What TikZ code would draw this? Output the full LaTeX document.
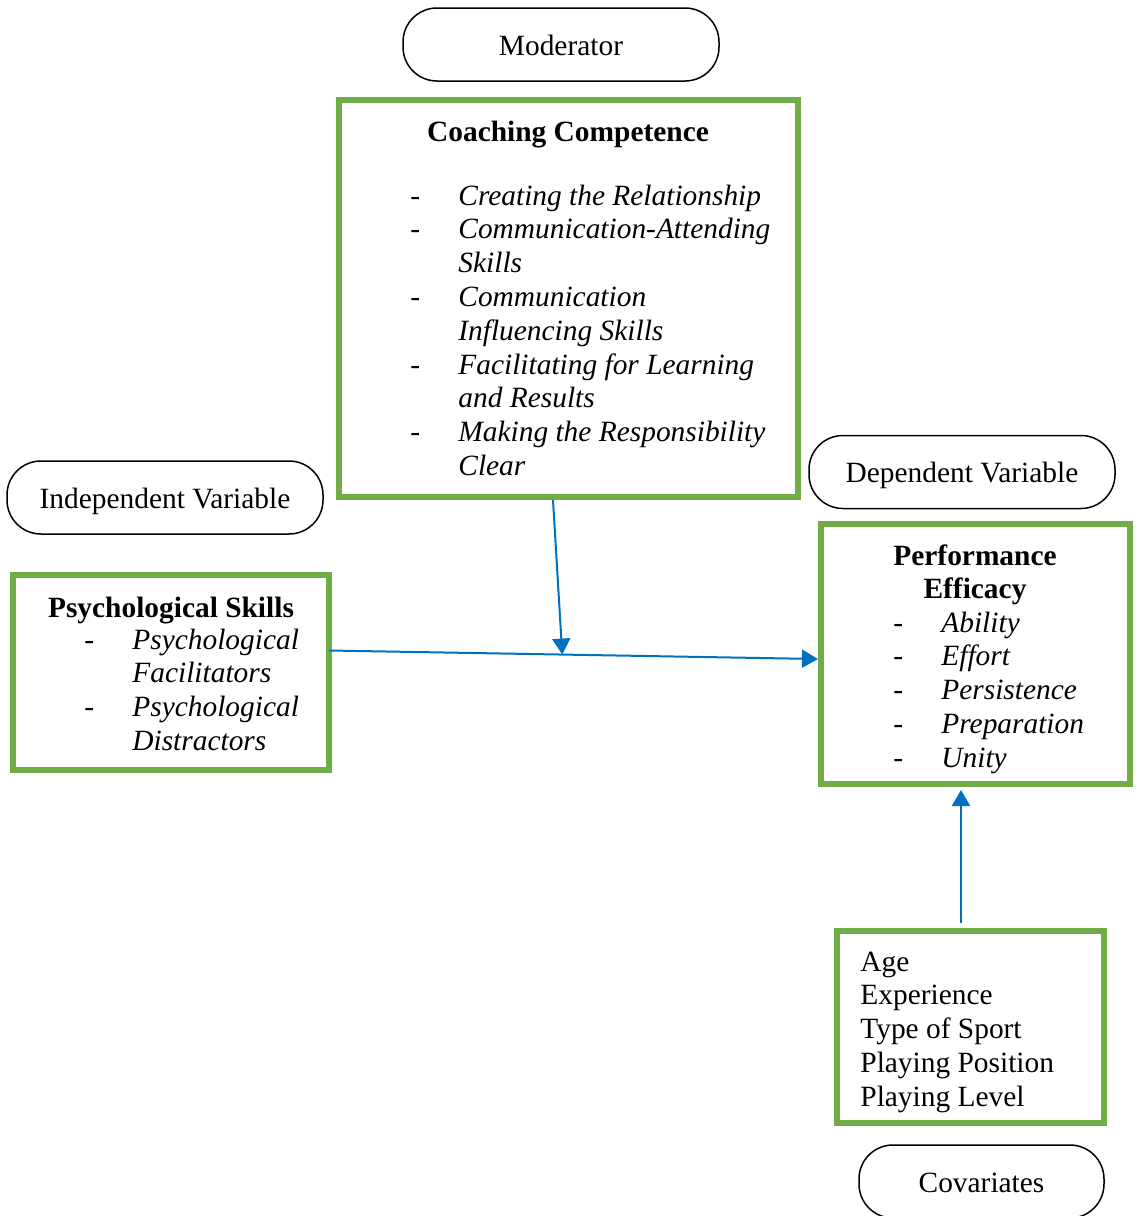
\documentclass[tikz,border=0pt]{standalone}
\usepackage{fontspec}
\usepackage{array}
\setmainfont{Liberation Serif}
\usetikzlibrary{arrows.meta,calc}

\definecolor{boxgreen}{HTML}{70AD47}
\definecolor{linkblue}{HTML}{0070C0}

% dash list: a dash, then the item in italics
\newcommand{\dashlist}[1]{\begin{tabular}{@{}p{24pt}@{}>{\itshape}l@{}}#1\end{tabular}}
\newcommand{\bodyfont}{\fontsize{14.7}{16.9}\selectfont}

\tikzset{
  varlabel/.style={draw, line width=0.75pt, rounded corners=17pt, minimum height=36.5pt,
    text height=12.5pt, text depth=2pt},
  greenbox/.style={draw=boxgreen, line width=3pt, inner sep=0pt},
  listtext/.style={anchor=north west, inner sep=0pt},
  headtext/.style={anchor=north, inner sep=0pt, font=\bodyfont\bfseries},
  link/.style={linkblue, line width=1pt, -{Triangle[length=8pt,width=9pt]}},
}

\begin{document}
\begin{tikzpicture}[x=0.5pt, y=-0.5pt, font=\bodyfont]
        \useasboundingbox (0,0) rectangle (1137,1216);
        % Labels of the variables
        \node[varlabel, minimum width=158pt] (moderator) at (561,44.5) {Moderator};
        \node[varlabel, minimum width=158pt] (indep) at (165,497.5) {Independent Variable};
        \node[varlabel, minimum width=153pt] (dep) at (962,472) {Dependent Variable};
        \node[varlabel, minimum width=122.5pt] (covlabel) at (981.5,1181.5) {Covariates};
        % Green boxes
        \node[greenbox, minimum width=229.5pt, minimum height=198.5pt] (coach) at (568.5,298.5) {};
        \node[greenbox, minimum width=158pt, minimum height=97.5pt] (psych) at (171,672.5) {};
        \node[greenbox, minimum width=154.5pt, minimum height=130pt] (perf) at (975.5,654) {};
        \node[greenbox, minimum width=133.5pt, minimum height=96pt] (cov) at (970.5,1027) {};
        % Coaching competence
        \node[headtext] (coachhead) at (568,121) {Coaching Competence};
        \node[listtext] (coachlist) at (410,181) {\dashlist{
          - & Creating the Relationship\\
          - & Communication-Attending\\
            & Skills\\
          - & Communication\\
            & Influencing Skills\\
          - & Facilitating for Learning\\
            & and Results\\
          - & Making the Responsibility\\
            & Clear}};
        % Psychological skills
        \node[headtext] (psychhead) at (171,597) {Psychological Skills};
        \node[listtext] (psychlist) at (84,625) {\dashlist{
          - & Psychological\\
            & Facilitators\\
          - & Psychological\\
            & Distractors}};
        % Performance efficacy
        \node[headtext] (perfhead) at (975,541) {\begin{tabular}{@{}c@{}}Performance\\Efficacy\end{tabular}};
        \node[listtext] (perflist) at (893,608) {\dashlist{
          - & Ability\\
          - & Effort\\
          - & Persistence\\
          - & Preparation\\
          - & Unity}};
        % Covariates
        \node[listtext] (covlist) at (860,947) {\begin{tabular}{@{}l@{}}
          Age\\ Experience\\ Type of Sport\\ Playing Position\\ Playing Level\end{tabular}};
        % Connectors
        \coordinate (pathstart) at ([xshift=-1.5pt, yshift=11pt]psych.east);
        \coordinate (pathend) at ([yshift=-2.5pt]perf.west);
        \coordinate (meet) at ($(pathstart)!0.477!(pathend)$);
        \draw[link] (pathstart) -- (pathend);
        \draw[link] ([xshift=-7.75pt]coach.south) -- (meet);
        \draw[link, shorten >=1.5pt] ([xshift=-4.75pt, yshift=2.5pt]cov.north) -- ([xshift=-7.25pt]perf.south);
\end{tikzpicture}
\end{document}
